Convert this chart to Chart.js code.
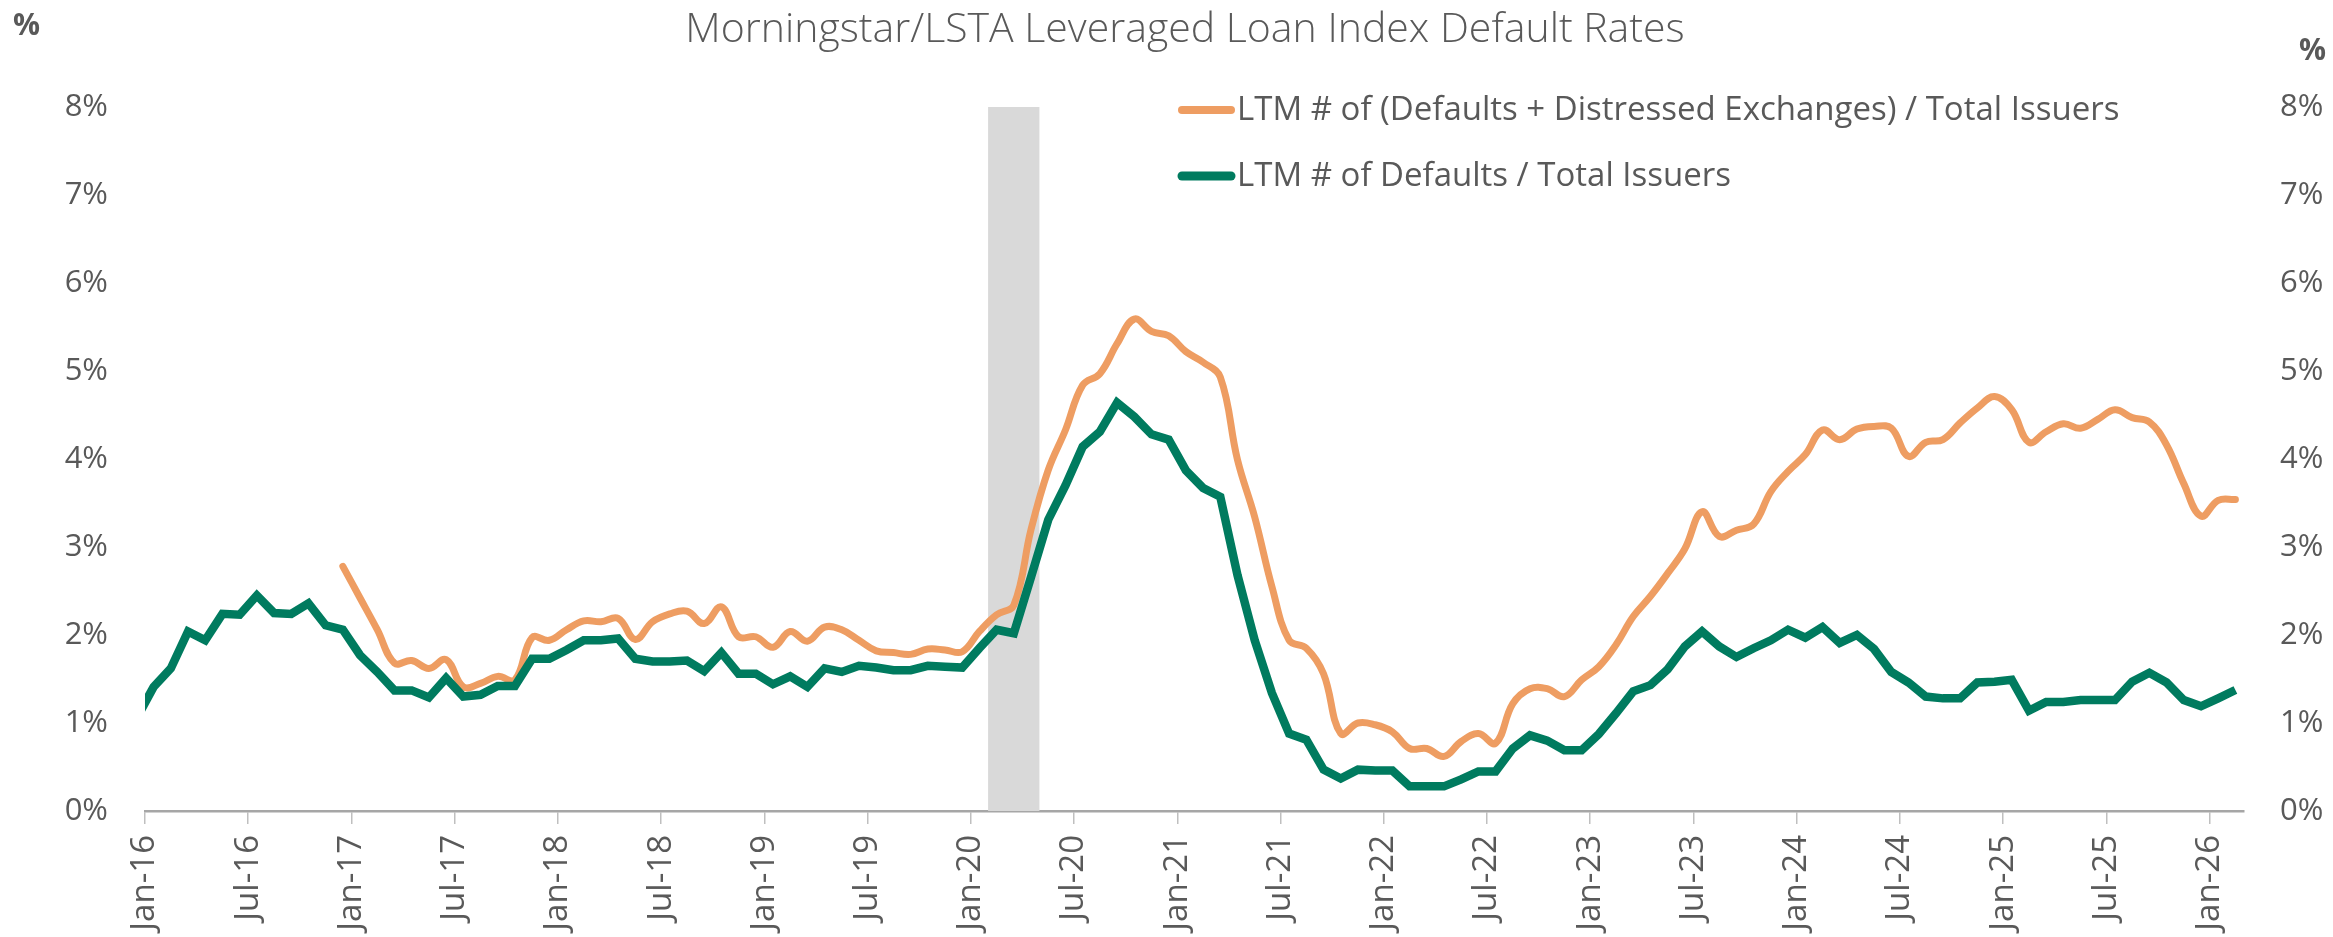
<!DOCTYPE html>
<html>
<head>
<meta charset="utf-8">
<script src="https://cdn.jsdelivr.net/npm/chart.js@4/dist/chart.umd.min.js"></script>
<style>
  html, body { margin: 0; padding: 0; background: #ffffff; }
  #wrap { position: relative; width: 2333px; height: 937px; }
</style>
</head>
<body>
<div id="wrap"><canvas id="c"></canvas></div>
<script>
// ---- categories: monthly observations, Dec-15 .. Feb-26 ----
const monthNames = ['Jan','Feb','Mar','Apr','May','Jun','Jul','Aug','Sep','Oct','Nov','Dec'];
const firstMonthOffset = -1;   // Dec-15 relative to Jan-16
const monthCount = 123;
const months = [];
for (let i = 0; i < monthCount; i++) {
  const m = firstMonthOffset + i;
  const yr = 2016 + Math.floor(m / 12);
  months.push(monthNames[((m % 12) + 12) % 12] + '-' + String(yr).slice(2));
}

// ---- x-axis tick labels ----
const tickLabels = ['Jan-16','Jul-16','Jan-17','Jul-17','Jan-18','Jul-18','Jan-19','Jul-19',
  'Jan-20','Jul-20','Jan-21','Jul-21','Jan-22','Jul-22','Jan-23','Jul-23','Jan-24','Jul-24',
  'Jan-25','Jul-25','Jan-26'];
const yTickLabels = ['0%','1%','2%','3%','4%','5%','6%','7%','8%'];

// ---- series: LTM # of Defaults / Total Issuers (Dec-15 .. Feb-26) ----
const defaultsRate = [
  1.05,
  1.41,1.62,2.04,1.94,2.24,2.23,2.45,2.25,2.24,2.36,2.11,2.06,   // 2016
  1.77,1.58,1.37,1.37,1.29,1.51,1.30,1.32,1.42,1.42,1.73,1.73,   // 2017
  1.83,1.94,1.94,1.96,1.73,1.70,1.70,1.71,1.59,1.80,1.56,1.56,   // 2018
  1.44,1.53,1.41,1.62,1.58,1.65,1.63,1.60,1.60,1.65,1.64,1.63,   // 2019
  1.85,2.06,2.02,2.66,3.31,3.70,4.14,4.31,4.64,4.48,4.28,4.22,   // 2020
  3.87,3.67,3.57,2.68,1.94,1.34,0.88,0.81,0.47,0.37,0.47,0.46,   // 2021
  0.46,0.28,0.28,0.28,0.36,0.45,0.45,0.71,0.86,0.80,0.69,0.69,   // 2022
  0.875,1.11,1.36,1.43,1.61,1.87,2.04,1.87,1.75,1.85,1.94,2.06,  // 2023
  1.97,2.09,1.91,2.00,1.84,1.58,1.46,1.30,1.28,1.28,1.46,1.47,   // 2024
  1.49,1.14,1.24,1.24,1.26,1.26,1.26,1.47,1.57,1.46,1.26,1.19,   // 2025
  1.28,1.375                                                     // 2026
];

// ---- series: LTM # of (Defaults + Distressed Exchanges) / Total Issuers (Dec-16 .. Feb-26) ----
const defaultsDEStart = 'Dec-16';
const defaultsDERate = [
  2.78,
  2.42,2.06,1.68,1.71,1.62,1.72,1.41,1.45,1.53,1.49,1.97,1.94,   // 2017
  2.06,2.16,2.15,2.19,1.95,2.15,2.24,2.27,2.13,2.32,1.98,1.98,   // 2018
  1.86,2.04,1.93,2.09,2.06,1.94,1.82,1.80,1.78,1.84,1.83,1.81,   // 2019
  2.04,2.23,2.34,3.20,3.875,4.33,4.84,4.97,5.31,5.59,5.45,5.40,  // 2020
  5.22,5.10,4.93,3.99,3.34,2.55,1.94,1.85,1.56,0.88,1.00,0.98,   // 2021
  0.90,0.71,0.71,0.62,0.79,0.88,0.77,1.22,1.39,1.39,1.30,1.49,   // 2022
  1.64,1.89,2.21,2.44,2.70,2.98,3.40,3.12,3.19,3.26,3.63,3.86,   // 2023
  4.05,4.33,4.22,4.34,4.37,4.35,4.03,4.19,4.22,4.41,4.58,4.71,   // 2024
  4.56,4.19,4.31,4.40,4.35,4.45,4.56,4.47,4.42,4.16,3.72,3.35,   // 2025
  3.53,3.54                                                      // 2026
];

// ---- shaded recession months ----
const recessionMonths = ['Feb-20', 'Apr-20'];

// ---- series names ----
const seriesNames = [
  'LTM # of (Defaults + Distressed Exchanges) / Total Issuers',
  'LTM # of Defaults / Total Issuers'
];
const chartTitle = 'Morningstar/LSTA Leveraged Loan Index Default Rates';

// ---- build data (x in months since Jan-16; points sit mid-month) ----
const monthPos = label => months.indexOf(label) + firstMonthOffset;
const MID = 0.5;
const greenData = defaultsRate.map((v, i) => ({ x: firstMonthOffset + i + MID, y: v }));
const orangeStart = monthPos(defaultsDEStart);
const orangeData = defaultsDERate.map((v, i) => ({ x: orangeStart + i + MID, y: v }));
const recStart = monthPos(recessionMonths[0]);
const recEnd = monthPos(recessionMonths[1]) + 1;
const yMax = yTickLabels.length - 1;
const shadeData = [{ x: recStart, y: yMax }, { x: recEnd, y: yMax }];
const tickPositions = tickLabels.map(monthPos);
const xMax = monthPos('Feb-26') + 1;

const ORANGE = '#EE9D62';
const GREEN = '#007B5F';
const TEXT = '#595959';
const FONT = "'Open Sans', 'Noto Sans', sans-serif";

const overlayPlugin = {
  id: 'overlay',
  afterDraw(chart) {
    const ctx = chart.ctx;
    ctx.save();
    // unit labels
    ctx.fillStyle = TEXT;
    ctx.font = 'bold 30px ' + FONT;
    ctx.textBaseline = 'middle';
    ctx.textAlign = 'left';
    ctx.fillText('%', 13, 26);
    ctx.fillText('%', 2299, 51);
    // legend
    const items = [
      { text: seriesNames[0], color: ORANGE, y: 110, w: 8 },
      { text: seriesNames[1], color: GREEN, y: 176, w: 9 }
    ];
    items.forEach(it => {
      ctx.strokeStyle = it.color;
      ctx.lineWidth = it.w;
      ctx.lineCap = 'round';
      ctx.beginPath();
      ctx.moveTo(1182, it.y);
      ctx.lineTo(1231, it.y);
      ctx.stroke();
      ctx.fillStyle = TEXT;
      ctx.font = '33px ' + FONT;
      ctx.textBaseline = 'middle';
      ctx.fillText(it.text, 1237, it.y + 1);
    });
    ctx.restore();
  }
};

new Chart(document.getElementById('c'), {
  type: 'line',
  data: {
    datasets: [
      {
        label: seriesNames[0], data: orangeData, borderColor: ORANGE, backgroundColor: ORANGE,
        borderWidth: 7, tension: 0.4, pointRadius: 0, borderCapStyle: 'round', fill: false,
        order: 1, clip: 0
      },
      {
        label: seriesNames[1], data: greenData, borderColor: GREEN, backgroundColor: GREEN,
        borderWidth: 8.5, tension: 0, pointRadius: 0, borderJoinStyle: 'miter', fill: false,
        order: 0, clip: 0
      },
      {
        label: 'Recession', data: shadeData, borderWidth: 0, pointRadius: 0,
        backgroundColor: '#D9D9D9', fill: 'origin', order: 5, clip: 0
      }
    ]
  },
  options: {
    responsive: true,
    maintainAspectRatio: false,
    animation: false,
    events: [],
    layout: { padding: { left: 37, right: 0, top: 0, bottom: 0 } },
    plugins: {
      legend: { display: false },
      tooltip: { enabled: false },
      title: {
        display: true, text: chartTitle, color: TEXT,
        font: { family: FONT, size: 41, weight: '300', lineHeight: 1.2 },
        padding: { top: 6, bottom: 51.8 }
      }
    },
    scales: {
      x: {
        type: 'linear', min: 0, max: xMax,
        afterBuildTicks: s => { s.ticks = tickPositions.map(v => ({ value: v })); },
        afterFit: s => { s.height = 126; },
        grid: { display: true, drawOnChartArea: false, drawTicks: true, tickLength: 13,
                color: '#BFBFBF', lineWidth: 1.5 },
        border: { display: true, color: '#A6A6A6', width: 2.5 },
        ticks: {
          autoSkip: false, minRotation: 90, maxRotation: 90, padding: 11,
          color: TEXT, font: { family: FONT, size: 33 },
          callback: v => tickLabels[tickPositions.indexOf(v)]
        }
      },
      y: {
        position: 'left', min: 0, max: yMax,
        afterFit: s => { s.width = 108; },
        grid: { display: false, drawTicks: false },
        border: { display: false },
        ticks: { stepSize: 1, padding: 37, color: TEXT, font: { family: FONT, size: 31 },
                 callback: v => yTickLabels[v] }
      },
      y2: {
        position: 'right', min: 0, max: yMax, display: true,
        afterFit: s => { s.width = 89; },
        grid: { display: false, drawTicks: false },
        border: { display: false },
        ticks: { stepSize: 1, padding: 36, color: TEXT, font: { family: FONT, size: 31 },
                 callback: v => yTickLabels[v] }
      }
    }
  },
  plugins: [overlayPlugin]
});
</script>
</body>
</html>
